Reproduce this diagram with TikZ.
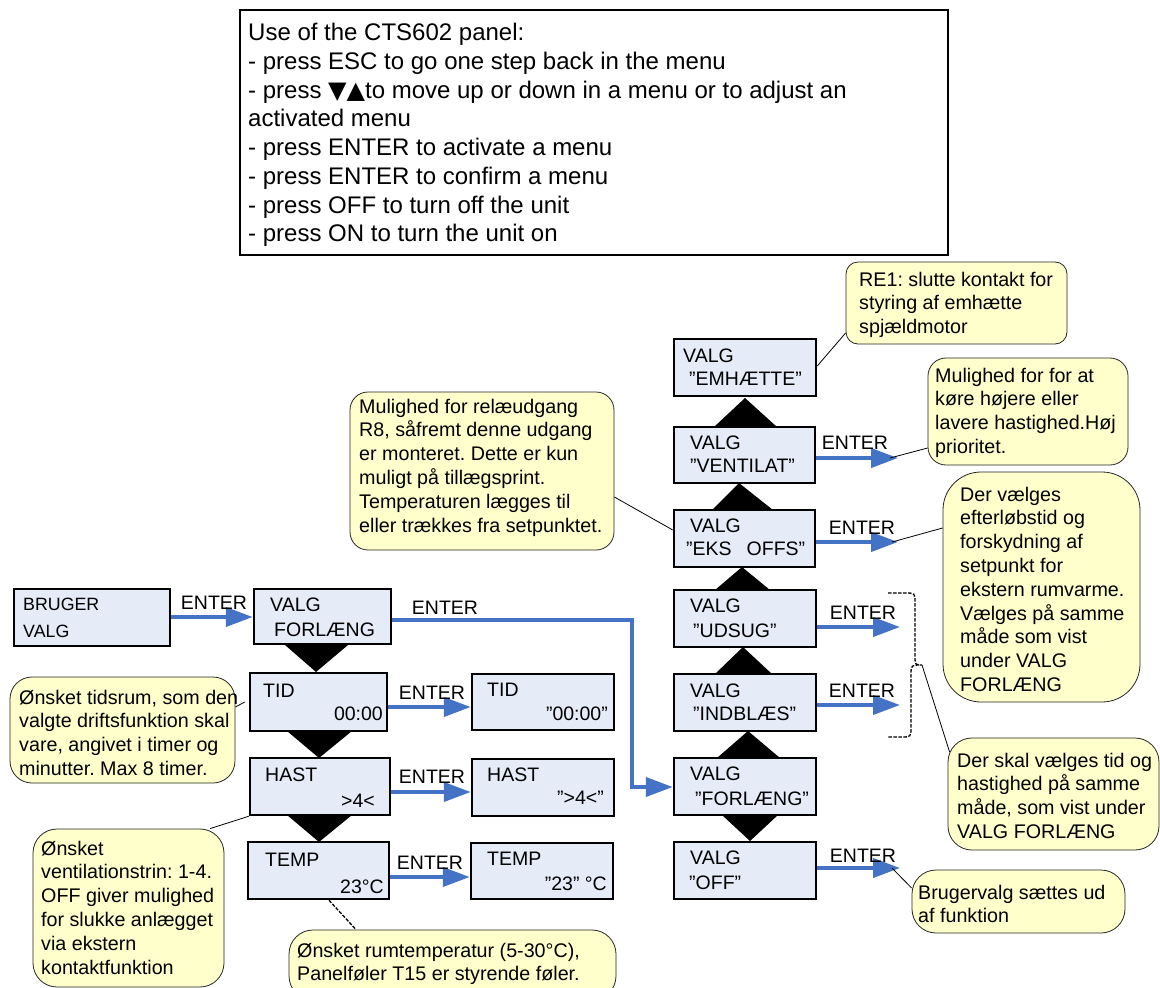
\documentclass[tikz,border=0pt]{standalone}
\usepackage{fontspec}
\setmainfont{Liberation Sans}
\newfontfamily\symfont{DejaVu Sans}
\usetikzlibrary{arrows.meta,fit}
\definecolor{boxfill}{RGB}{229,235,247}
\definecolor{callfill}{RGB}{255,255,204}
\definecolor{arrblue}{RGB}{68,114,196}
\newcommand{\cstrut}{\rule{0pt}{15pt}}
\frenchspacing
\begin{document}
\begin{tikzpicture}[x=1pt,y=-1pt,
  menubox/.style={draw=black, line width=2.5pt, fill=boxfill, inner sep=0pt},
  notebox/.style={draw=black!85, line width=0.8pt, fill=callfill, inner sep=0pt, rounded corners=18pt},
  boxtxt/.style={inner sep=0pt, font={\fontsize{19.5}{23}\selectfont}},
  smalltxt/.style={inner sep=0pt, font={\fontsize{17.8}{22}\selectfont}},
  calltxt/.style={inner sep=0pt, anchor=north west, align=left, font={\frenchspacing\fontsize{19.7}{23.8}\selectfont}},
  enterlbl/.style={inner sep=0pt, anchor=base, font={\fontsize{19.5}{23}\selectfont}},
  flow/.style={draw=arrblue, line width=4pt, -{Triangle[length=27pt,width=19pt]}},
  trifill/.style={fill=black},
  lead/.style={draw=black, line width=0.8pt},
  leaddash/.style={draw=black, line width=1.3pt, dash pattern=on 3.5pt off 1.5pt},
]
\fill[white] (0,0) rectangle (1160,988);
\useasboundingbox (0,0) rectangle (1160,988);

% top instruction box
\node[draw=black, line width=1.6pt, inner sep=0pt, fit={(240,10) (948,255)}] (tb) {};
\node[inner sep=0pt, anchor=north west, align=left, font={\frenchspacing\fontsize{24}{28.7}\selectfont}] (tbt) at (248,22.6)
{\rule{0pt}{18pt}Use of the CTS602 panel:\\
- press ESC to go one step back in the menu\\
- press {\symfont\fontsize{24}{24}\selectfont ▼▲}to move up or down in a menu or to adjust an\\
activated menu\\
- press ENTER to activate a menu\\
- press ENTER to confirm a menu\\
- press OFF to turn off the unit\\
- press ON to turn the unit on};

% triangles (left column)
\fill[trifill] (285,645) -- (348,645) -- (316,672) -- cycle;
\fill[trifill] (287,731) -- (352,731) -- (319,758) -- cycle;
\fill[trifill] (287,815) -- (352,815) -- (319,842) -- cycle;
% triangles (right column)
\fill[trifill] (714,427) -- (777,427) -- (745,398) -- cycle;
\fill[trifill] (712,510) -- (773,510) -- (739,483) -- cycle;
\fill[trifill] (715,590) -- (770,590) -- (742,567) -- cycle;
\fill[trifill] (715,674) -- (772,674) -- (743,647) -- cycle;
\fill[trifill] (717,758) -- (780,758) -- (748,731) -- cycle;
\fill[trifill] (722,815) -- (778,815) -- (750,841) -- cycle;

% left menu boxes
\node[menubox, fit={(14,589) (170,646)}] (bruger) {};
\node[smalltxt, anchor=base west] (brugerA) at (23,610) {BRUGER};
\node[smalltxt, anchor=base west] (brugerB) at (23,637) {VALG};

\node[menubox, fit={(254,589) (391,644)}] (forl) {};
\node[boxtxt, anchor=base west] (forlA) at (270,611) {VALG};
\node[boxtxt, anchor=base west] (forlB) at (274,636) {FORLÆNG};

\node[menubox, fit={(250,673) (387,731)}] (tid) {};
\node[boxtxt, anchor=base west] (tidA) at (263,697) {TID};
\node[boxtxt, anchor=base east] (tidB) at (383,720) {00:00};

\node[menubox, fit={(250,758) (390,815)}] (hast) {};
\node[boxtxt, anchor=base west] (hastA) at (265,781) {HAST};
\node[boxtxt, anchor=base east] (hastB) at (375,807) {>4<};

\node[menubox, fit={(248,842) (389,899)}] (temp) {};
\node[boxtxt, anchor=base west] (tempA) at (265,866) {TEMP};
\node[boxtxt, anchor=base east] (tempB) at (384,893) {23°C};

% second column (activated values)
\node[menubox, fit={(472,674) (614,730)}] (tid2) {};
\node[boxtxt, anchor=base west] (tid2A) at (487,696) {TID};
\node[boxtxt, anchor=base east] (tid2B) at (608,720) {”00:00"};

\node[menubox, fit={(472,759) (614,816)}] (hast2) {};
\node[boxtxt, anchor=base west] (hast2A) at (487,781) {HAST};
\node[boxtxt, anchor=base east] (hast2B) at (604,804) {”>4<”};

\node[menubox, fit={(471,843) (613,899)}] (temp2) {};
\node[boxtxt, anchor=base west] (temp2A) at (487,865) {TEMP};
\node[boxtxt, anchor=base east] (temp2B) at (607,890) {”23" °C};

% right column
\node[menubox, fit={(674,339) (816,396)}] (emh) {};
\node[boxtxt, anchor=base west] (emhA) at (683,362) {VALG};
\node[boxtxt, anchor=base west] (emhB) at (689,385) {”EMHÆTTE”};

\node[menubox, fit={(674,427) (815,483)}] (vent) {};
\node[boxtxt, anchor=base west] (ventA) at (690,449) {VALG};
\node[boxtxt, anchor=base west] (ventB) at (690,472) {”VENTILAT”};

\node[menubox, fit={(674,510) (815,567)}] (eks) {};
\node[boxtxt, anchor=base west] (eksA) at (690,532) {VALG};
\node[boxtxt, anchor=base west] (eksB) at (686,555) {”EKS\hspace{15pt}OFFS”};

\node[menubox, fit={(674,590) (816,647)}] (udsug) {};
\node[boxtxt, anchor=base west] (udsugA) at (690,612) {VALG};
\node[boxtxt, anchor=base west] (udsugB) at (693,637) {”UDSUG”};

\node[menubox, fit={(674,674) (816,731)}] (indb) {};
\node[boxtxt, anchor=base west] (indbA) at (690,697) {VALG};
\node[boxtxt, anchor=base west] (indbB) at (693,720) {”INDBLÆS”};

\node[menubox, fit={(674,758) (816,815)}] (forl2) {};
\node[boxtxt, anchor=base west] (forl2A) at (690,780) {VALG};
\node[boxtxt, anchor=base west] (forl2B) at (695,805) {”FORLÆNG”};

\node[menubox, fit={(674,842) (816,899)}] (off) {};
\node[boxtxt, anchor=base west] (offA) at (690,864) {VALG};
\node[boxtxt, anchor=base west] (offB) at (689,889) {”OFF”};

% arrow end coordinates
\coordinate (av) at (898,458);
\coordinate (ae) at (898,542);
\coordinate (au) at (900,627);
\coordinate (ai) at (900,705);
\coordinate (ao) at (900,868);
\coordinate (bt) at (922,665);

% ENTER arrows
\draw[flow] (bruger.east |- 0,617) -- (forl.west |- 0,617);
\draw[flow] (forl.east |- 0,620) -| (632,787) -- (forl2.west |- 0,787);
\draw[flow] (tid.east |- 0,707) -- (tid2.west |- 0,707);
\draw[flow] (hast.east |- 0,792) -- (hast2.west |- 0,792);
\draw[flow] (temp.east |- 0,877) -- (temp2.west |- 0,877);
\draw[flow] (vent.east |- av) -- (av);
\draw[flow] (eks.east |- ae) -- (ae);
\draw[flow] (udsug.east |- au) -- (au);
\draw[flow] (indb.east |- ai) -- (ai);
\draw[flow] (off.east |- ao) -- (ao);

% ENTER labels
\node[enterlbl] (e0) at (214,609) {ENTER};
\node[enterlbl] (e1) at (445,614) {ENTER};
\node[enterlbl] (e2) at (432,699) {ENTER};
\node[enterlbl] (e3) at (432,783) {ENTER};
\node[enterlbl] (e4) at (430,869) {ENTER};
\node[enterlbl] (e5) at (855,449) {ENTER};
\node[enterlbl] (e6) at (862,534) {ENTER};
\node[enterlbl] (e7) at (863,619) {ENTER};
\node[enterlbl] (e8) at (862,697) {ENTER};
\node[enterlbl] (e9) at (863,862) {ENTER};

% brace
\draw[leaddash] (888,593) -- (905,593) .. controls (915,593) .. (915,603) -- (915,655)
  .. controls (915,665) .. (bt) .. controls (911,665) .. (911,675) -- (911,727)
  .. controls (911,737) .. (901,737) -- (888,737);

% callouts
\node[notebox, rounded corners=12pt, fit={(846,262) (1067,344)}] (c1) {};
\node[calltxt] (c1t) at (859,270.8) {\cstrut RE1: slutte kontakt for\\ styring af emhætte\\ spjældmotor};

\node[notebox, fit={(928,358) (1128,465)}] (c2) {};
\node[calltxt] (c2t) at (935,366.8) {\cstrut Mulighed for for at\\ køre højere eller\\ lavere hastighed.Høj\\ prioritet.};

\node[notebox, rounded corners=38pt, fit={(943,472) (1140,702)}] (c3) {};
\node[calltxt] (c3t) at (960,485.8) {\cstrut Der vælges\\ efterløbstid og\\ forskydning af\\ setpunkt for\\ ekstern rumvarme.\\ Vælges på samme\\ måde som vist\\ under VALG\\ FORLÆNG};

\node[notebox, rounded corners=24pt, fit={(948,738) (1159,850)}] (c4) {};
\node[calltxt] (c4t) at (957,751.8) {\cstrut Der skal vælges tid og\\ hastighed på samme\\ måde, som vist under\\ VALG FORLÆNG};

\node[notebox, rounded corners=24pt, fit={(912,870) (1125,933)}] (c5) {};
\node[calltxt] (c5t) at (918,883.8) {\cstrut Brugervalg sættes ud\\ af funktion};

\node[notebox, fit={(350,392) (614,550)}] (c6) {};
\node[calltxt] (c6t) at (359,397.8) {\cstrut Mulighed for relæudgang\\ R8, såfremt denne udgang\\ er monteret. Dette er kun\\ muligt på tillægsprint.\\ Temperaturen lægges til\\ eller trækkes fra setpunktet.};

\node[notebox, rounded corners=22pt, fit={(10,677) (235,783)}] (c7) {};
\node[calltxt] (c7t) at (19,688.8) {\cstrut Ønsket tidsrum, som den\\ valgte driftsfunktion skal\\ vare, angivet i timer og\\ minutter. Max 8 timer.};

\node[notebox, rounded corners=24pt, fit={(33,829) (224,987)}] (c8) {};
\node[calltxt] (c8t) at (41,839.8) {\cstrut Ønsket\\ ventilationstrin: 1-4.\\ OFF giver mulighed\\ for slukke anlægget\\ via ekstern\\ kontaktfunktion};

\node[notebox, rounded corners=24pt, fit={(289,930) (616,1000)}] (c9) {};
\node[calltxt] (c9t) at (297,941.8) {\cstrut Ønsket rumtemperatur (5-30°C),\\ Panelføler T15 er styrende føler.};

% leader lines
\draw[lead] (emh.east |- 0,366) -- (c1.west |- 0,333);
\draw[lead] ([xshift=-8pt]av) -- (c2.west |- 0,448);
\draw[lead] ([xshift=-6pt]ae) -- (c3.west |- 0,528);
\draw[lead] (bt) -- ([xshift=2pt]c4.west |- 0,752);
\draw[lead] ([xshift=-8pt]ao) -- (c5.west |- 0,888);
\draw[lead] (c6.east |- 0,497) -- (eks.west |- 0,530);
\draw[lead] (c7.east |- 0,707) -- ([xshift=-4pt]tid.west |- 0,702);
\draw[lead] (c8.north -| 210,0) -- (hast.south west);
\draw[leaddash] (temp.south -| 329,0) -- (c9.north -| 356,0);
\end{tikzpicture}
\end{document}
